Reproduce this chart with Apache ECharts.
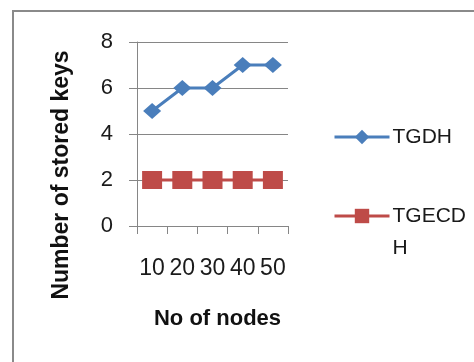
<!DOCTYPE html>
<html>
<head>
<meta charset="utf-8">
<script src="https://cdn.jsdelivr.net/npm/echarts@6/dist/echarts.min.js"></script>
<style>html,body{margin:0;padding:0;background:#fff;}#c{width:474px;height:362px;}</style>
</head>
<body>
<div id="c"></div>
<script>
const categories = ['10', '20', '30', '40', '50'];
const tgdh = [5, 6, 6, 7, 7];
const tgecdh = [2, 2, 2, 2, 2];
const seriesNames = ['TGDH', 'TGECDH'];
const yTicks = { min: 0, max: 8, interval: 2 };
const xTitle = 'No of nodes';
const yTitle = 'Number of stored keys';

const FONT = '"Liberation Sans", Arial, sans-serif';
const chart = echarts.init(document.getElementById('c'), null, { renderer: 'canvas' });
chart.setOption({
  animation: false,
  backgroundColor: '#fff',
  graphic: [{
    type: 'rect', shape: { x: 13, y: 11, width: 520, height: 420 },
    style: { fill: 'none', stroke: '#8a8a8a', lineWidth: 2 }, silent: true, z: -1
  }],
  grid: { left: 137, right: 186, top: 42, bottom: 136 },
  legend: {
    orient: 'vertical', left: 328, top: 116,
    itemWidth: 55, itemHeight: 18, itemGap: 15,
    data: seriesNames,
    lineStyle: { width: 3 },
    formatter: n => n === 'TGECDH' ? '\nTGECD\nH' : n,
    textStyle: { fontFamily: FONT, fontSize: 21, color: '#1a1a1a', lineHeight: 32, padding: [0, 0, 0, -2] }
  },
  xAxis: {
    type: 'category', data: categories, boundaryGap: true,
    name: xTitle, nameLocation: 'middle', nameGap: 82,
    nameTextStyle: { fontFamily: FONT, fontSize: 22, fontWeight: 'bold', color: '#111', padding: [0, 0, 0, 10] },
    axisLine: { lineStyle: { color: '#868686', width: 1 } },
    axisTick: { show: true, length: 8, lineStyle: { color: '#868686' }, alignWithLabel: false },
    axisLabel: { fontFamily: FONT, fontSize: 23, color: '#1a1a1a', margin: 31, interval: 0 }
  },
  yAxis: {
    type: 'value', min: yTicks.min, max: yTicks.max, interval: yTicks.interval,
    name: yTitle, nameLocation: 'middle', nameGap: 64, nameRotate: 90,
    nameTextStyle: { fontFamily: FONT, fontSize: 23, fontWeight: 'bold', color: '#111', padding: [0, 82, 0, 0] },
    axisLine: { show: true, lineStyle: { color: '#868686', width: 1 } },
    axisTick: { show: true, length: 8, lineStyle: { color: '#868686' } },
    axisLabel: { fontFamily: FONT, fontSize: 22, color: '#1a1a1a', margin: 24 },
    splitLine: { lineStyle: { color: '#868686', width: 1 } }
  },
  series: [
    {
      name: seriesNames[0], type: 'line', data: tgdh,
      symbol: 'diamond', symbolSize: [18, 16],
      lineStyle: { color: '#4a7ebb', width: 3 },
      itemStyle: { color: '#4a7ebb' }
    },
    {
      name: seriesNames[1], type: 'line', data: tgecdh,
      symbol: 'rect', symbolSize: [20, 18],
      lineStyle: { color: '#be4b48', width: 3 },
      itemStyle: { color: '#be4b48' }
    }
  ]
});
</script>
</body>
</html>
